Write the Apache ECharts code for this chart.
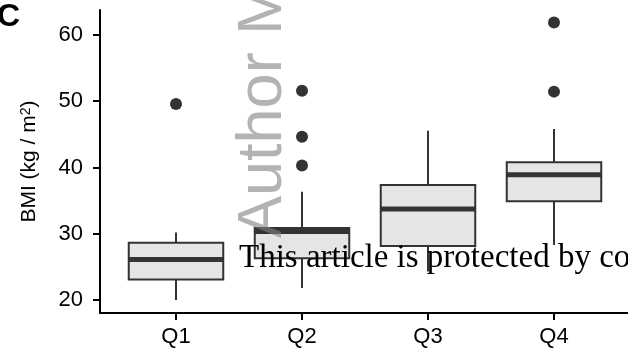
<!DOCTYPE html>
<html>
<head>
<meta charset="utf-8">
<script src="https://cdn.jsdelivr.net/npm/echarts@6/dist/echarts.min.js"></script>
<style>
  html, body { margin:0; padding:0; background:#fff; }
  #chart { width:628px; height:350px; }
</style>
</head>
<body>
<div id="chart"></div>
<script>
const categories = ['Q1', 'Q2', 'Q3', 'Q4']
const whiskerLow = [20.0, 21.8, 24.3, 28.3]
const boxLow = [23.1, 26.3, 28.15, 34.9]
const medians = [26.1, 30.35, 33.75, 38.9]
const boxHigh = [28.65, 30.85, 37.35, 40.8]
const whiskerHigh = [30.2, 36.35, 45.55, 45.8]
const outlierCats = ['Q1', 'Q2', 'Q2', 'Q2', 'Q4', 'Q4']
const outlierValues = [49.6, 51.6, 44.65, 40.3, 61.9, 51.45]
const yTicks = [20, 30, 40, 50, 60]

const yMin = 18.04
const yMax = 63.77
const font = 'Liberation Sans, Arial, sans-serif'
const dark = '#333333'

const boxData = categories.map((c, i) => [i, whiskerLow[i], boxLow[i], medians[i], boxHigh[i], whiskerHigh[i]])
const outlierData = outlierCats.map((c, i) => [c, outlierValues[i]])

const renderBox = (params, api) => {
    const idx = api.value(0)
    const half = api.size([1, 0])[0] * 0.375
    const wl = api.coord([idx, api.value(1)])
    const bl = api.coord([idx, api.value(2)])
    const md = api.coord([idx, api.value(3)])
    const bh = api.coord([idx, api.value(4)])
    const wh = api.coord([idx, api.value(5)])
    const stroke = { stroke: dark, lineWidth: 2 }
    return {
        type: 'group',
        children: [
            { type: 'line', shape: { x1: wl[0], y1: wl[1], x2: bl[0], y2: bl[1] }, style: stroke },
            { type: 'line', shape: { x1: bh[0], y1: bh[1], x2: wh[0], y2: wh[1] }, style: stroke },
            { type: 'rect', shape: { x: bh[0] - half, y: bh[1], width: half * 2, height: bl[1] - bh[1] },
              style: { fill: '#e5e5e5', stroke: dark, lineWidth: 2 } },
            { type: 'line', shape: { x1: md[0] - half, y1: md[1], x2: md[0] + half, y2: md[1] },
              style: { stroke: dark, lineWidth: 5 } }
        ]
    }
}

const chart = echarts.init(document.getElementById('chart'), null, { renderer: 'canvas' })

const option = {
    animation: false,
    backgroundColor: '#fff',
    grid: [
        { left: 113, width: 504, top: 10, bottom: 37 },
        { left: 100, right: 0, top: 10, bottom: 37 }
    ],
    xAxis: [
        {
            type: 'category', gridIndex: 0, data: categories,
            axisLine: { show: false },
            axisTick: { show: true, alignWithLabel: true, length: 7, lineStyle: { color: '#000', width: 2 } },
            axisLabel: { color: '#000', fontSize: 22, fontFamily: font, margin: 13 },
            splitLine: { show: false }
        },
        {
            type: 'value', gridIndex: 1, min: 0.4, max: 4.6,
            axisLine: { show: true, onZero: false, lineStyle: { color: '#000', width: 2 } },
            axisTick: { show: false }, axisLabel: { show: false }, splitLine: { show: false }
        }
    ],
    yAxis: [
        {
            type: 'value', gridIndex: 0, min: yMin, max: yMax,
            axisLine: { show: false }, axisTick: { show: false }, axisLabel: { show: false }, splitLine: { show: false }
        },
        {
            type: 'value', gridIndex: 1, min: yMin, max: yMax,
            name: '{a|BMI (kg / m}{s|2}{a|)}', nameLocation: 'middle', nameGap: 60,
            nameTextStyle: {
                color: '#000', fontSize: 21, fontFamily: font,
                rich: {
                    a: { color: '#000', fontSize: 21, fontFamily: font, verticalAlign: 'bottom' },
                    s: { color: '#000', fontSize: 14, fontFamily: font, verticalAlign: 'top' }
                }
            },
            axisLine: { show: true, onZero: false, lineStyle: { color: '#000', width: 2 } },
            axisTick: { show: true, length: 7, customValues: yTicks, lineStyle: { color: '#000', width: 2 } },
            axisLabel: { color: '#000', fontSize: 22, fontFamily: font, margin: 17, customValues: yTicks },
            splitLine: { show: false }
        }
    ],
    series: [
        {
            type: 'custom', xAxisIndex: 0, yAxisIndex: 0,
            data: boxData,
            encode: { x: 0, y: [1, 2, 3, 4, 5] },
            renderItem: renderBox
        },
        {
            type: 'scatter', xAxisIndex: 0, yAxisIndex: 0,
            data: outlierData, symbolSize: 12,
            itemStyle: { color: dark, opacity: 1 }
        }
    ],
    graphic: [
        {
            type: 'text', x: -3, y: 17, z: 100,
            style: { text: 'C', font: 'bold 32px ' + font, fill: '#000', textVerticalAlign: 'middle' }
        },
        {
            type: 'text', x: 295, y: 238, rotation: Math.PI / 2, z: 100,
            style: { text: 'Author M', font: '63px ' + font, fill: 'rgba(128,128,128,0.6)', textAlign: 'left', textVerticalAlign: 'bottom' }
        },
        {
            type: 'text', x: 239, y: 275, z: 101,
            style: { text: 'This article is protected by copyright. All rights reserved', font: '33px "Liberation Serif", serif', fill: '#000', textAlign: 'left', textVerticalAlign: 'bottom' }
        }
    ]
}

chart.setOption(option)
</script>
</body>
</html>
